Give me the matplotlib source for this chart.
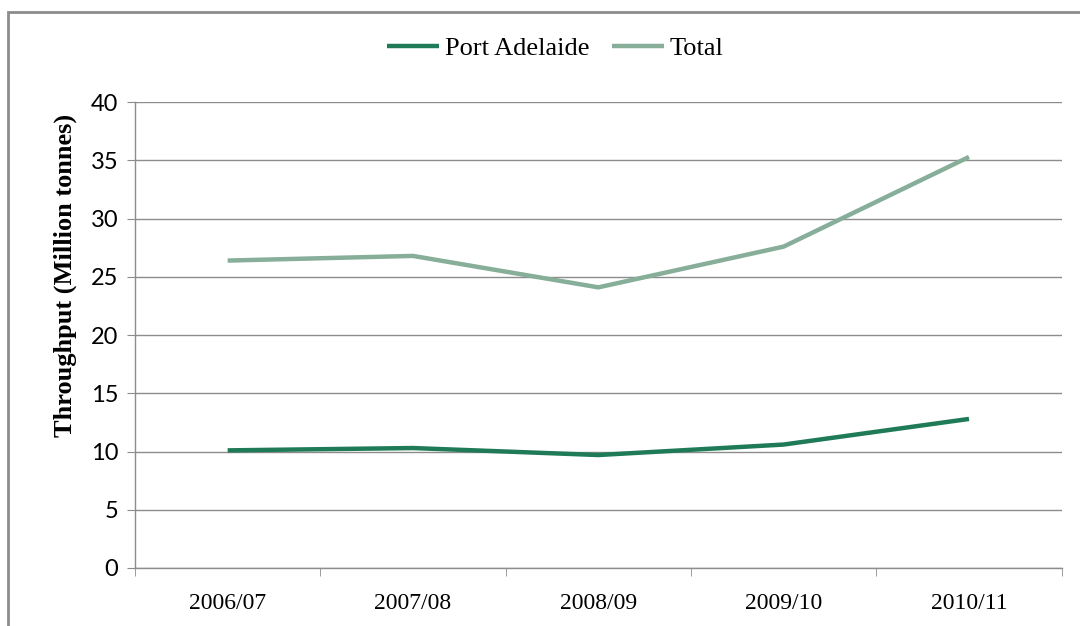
import matplotlib
matplotlib.use("Agg")
import matplotlib.pyplot as plt
from matplotlib.patches import Rectangle

years = ["2006/07", "2007/08", "2008/09", "2009/10", "2010/11"]
port_adelaide = [10.1, 10.3, 9.7, 10.6, 12.8]
total = [26.4, 26.8, 24.1, 27.6, 35.3]

fig = plt.figure(figsize=(10.8, 6.26), dpi=100)
ax = fig.add_axes([0.125, 0.0927, 0.858, 0.744])

# outer chart frame
fig.patches.append(Rectangle((8/1080, -0.1), 1.2, 1 - 12/626 + 0.1, transform=fig.transFigure,
                             fill=False, edgecolor="#8c8c8c", linewidth=2))

x = range(len(years))
ax.plot(x, port_adelaide, color="#1f7a58", linewidth=3.2, label="Port Adelaide", solid_capstyle="butt")
ax.plot(x, total, color="#86ae99", linewidth=3.2, label="Total", solid_capstyle="butt")

ax.set_xlim(-0.5, 4.5)
ax.set_ylim(0, 40)
ax.set_yticks(range(0, 41, 5))
ax.yaxis.grid(True, color="#8c8c8c", linewidth=1)
ax.set_axisbelow(True)

ax.set_xticks(list(x))
ax.set_xticklabels(years, family="Liberation Serif", fontsize=17)
ax.set_xticks([i - 0.5 for i in range(len(years) + 1)], minor=True)
ax.tick_params(axis="x", which="major", length=0, pad=18)
ax.tick_params(axis="x", which="minor", length=6, color="#8c8c8c", direction="out")
ax.tick_params(axis="y", length=6, color="#8c8c8c", labelsize=17, pad=6)
for lab in ax.get_yticklabels():
    lab.set_family("Lato")

for s in ["top", "right"]:
    ax.spines[s].set_visible(False)
for s in ["left", "bottom"]:
    ax.spines[s].set_color("#8c8c8c")
    ax.spines[s].set_linewidth(1)

ax.set_ylabel("Throughput (Million tonnes)", family="Liberation Serif", fontweight="bold",
              fontsize=19)
ax.yaxis.set_label_coords(-0.063, 0.629)

fig.legend(loc="center", bbox_to_anchor=(0.514, 0.923), ncol=2, frameon=False,
           prop={"family": "Liberation Serif", "size": 19}, handlelength=2.0,
           handletextpad=0.2, columnspacing=0.85)

fig.savefig("out.png", dpi=100)
